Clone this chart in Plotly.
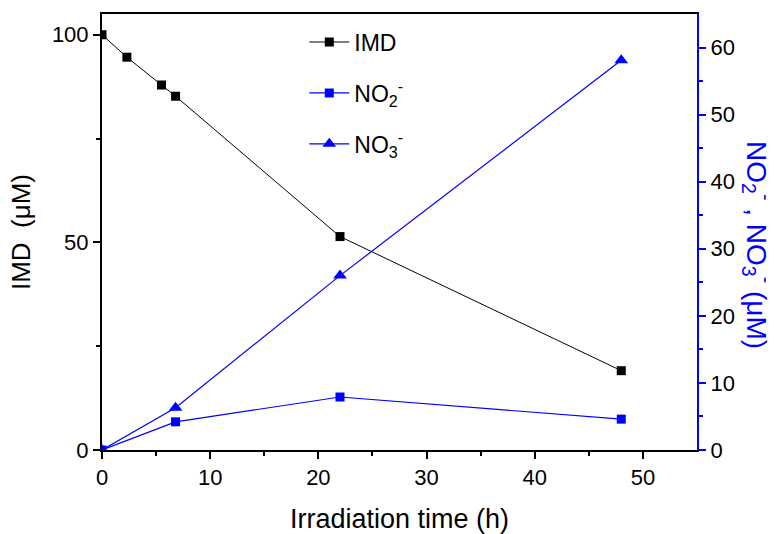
import plotly.graph_objects as go

time_imd = [0, 2.3, 5.5, 6.8, 22, 48]
imd = [100, 94.6, 87.9, 85.2, 51.4, 19.1]
time_n = [0, 6.8, 22, 48]
no2 = [0, 4.2, 7.9, 4.6]
no3 = [0, 6.3, 26.0, 58.1]

FONT = "Liberation Sans, Arial, sans-serif"
BLUE = "#0000ff"

fig = go.Figure()
fig.add_trace(go.Scatter(x=time_imd, y=imd, name="IMD", mode="lines+markers",
                         line=dict(color="black", width=1),
                         marker=dict(symbol="square", size=9, color="black"),
                         legendgroup="a"))
fig.add_trace(go.Scatter(x=time_n, y=no2, name="NO<sub>2</sub><sup>-</sup>", mode="lines+markers",
                         line=dict(color=BLUE, width=1.2),
                         marker=dict(symbol="square", size=9, color=BLUE),
                         yaxis="y2", legendgroup="b"))
fig.add_trace(go.Scatter(x=time_n, y=no3, name="NO<sub>3</sub><sup>-</sup>", mode="lines+markers",
                         line=dict(color=BLUE, width=1.2),
                         marker=dict(symbol="triangle-up", size=12, color=BLUE),
                         yaxis="y2", legendgroup="c"))

fig.update_layout(
    width=779, height=534,
    margin=dict(l=102, r=82, t=14, b=84, autoexpand=False),
    paper_bgcolor="white", plot_bgcolor="white",
    font=dict(family=FONT, size=22, color="black"),
    showlegend=True,
    legend=dict(x=0.34, y=0.985, xanchor="left", yanchor="top",
                bgcolor="rgba(0,0,0,0)", font=dict(size=23),
                traceorder="grouped", tracegroupgap=18, itemwidth=40),
    xaxis=dict(range=[0, 55], tickvals=[0, 10, 20, 30, 40, 50],
               ticks="outside", ticklen=7, tickwidth=2, tickcolor="black",
               tickfont=dict(size=22), automargin=False,
               minor=dict(tickvals=[5, 15, 25, 35, 45], ticks="outside", ticklen=4, tickwidth=2, tickcolor="black"),
               showline=True, linewidth=2, linecolor="black", mirror=True,
               showgrid=False, zeroline=False,
               title=dict(text="Irradiation time (h)", font=dict(size=27), standoff=20)),
    yaxis=dict(range=[0, 105], tickvals=[0, 50, 100],
               ticks="outside", ticklen=7, tickwidth=2, tickcolor="black",
               tickfont=dict(size=22), automargin=False,
               minor=dict(tickvals=[25, 75], ticks="outside", ticklen=4, tickwidth=2, tickcolor="black"),
               showline=True, linewidth=2, linecolor="black",
               showgrid=False, zeroline=False,
               title=dict(text="IMD  (μM)", font=dict(size=26), standoff=14)),
    yaxis2=dict(range=[0, 65], tickvals=[0, 10, 20, 30, 40, 50, 60],
                overlaying="y", side="right", automargin=False,
                ticks="outside", ticklen=7, tickwidth=2, tickcolor=BLUE,
                minor=dict(tickvals=[5, 15, 25, 35, 45, 55], ticks="outside", ticklen=4, tickwidth=2, tickcolor=BLUE),
                showline=True, linewidth=2, linecolor=BLUE,
                showgrid=False, zeroline=False,
                tickfont=dict(color="black", size=22)),
    annotations=[dict(text="NO<sub>2</sub><sup>-</sup> , NO<sub>3</sub><sup>-</sup> (μM)",
                      x=1.138, y=0.47, xref="paper", yref="paper",
                      textangle=90, showarrow=False,
                      font=dict(size=28, color=BLUE))],
)

fig.write_html("out.html", config={"displayModeBar": False},
               post_script="document.body.style.margin='0';")
